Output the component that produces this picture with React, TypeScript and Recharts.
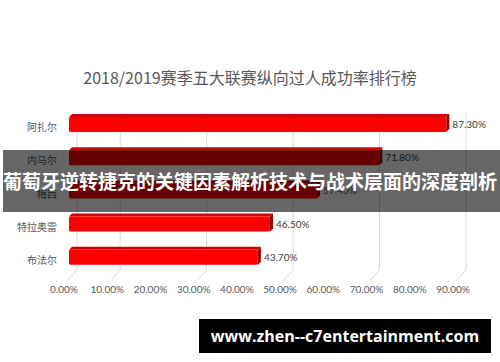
import React from 'react';
import { BarChart, Bar, XAxis, YAxis, CartesianGrid, LabelList } from 'recharts';

const players = ['阿扎尔', '内马尔', '梅西', '特拉奥雷', '布法尔'];
const rates = [87.3, 71.8, 57.4, 46.5, 43.7];
const xTicks = [0, 10, 20, 30, 40, 50, 60, 70, 80, 90];

const data = players.map((name, i) => ({ name, rate: rates[i] }));

const FONT = "Lato, 'Noto Sans CJK SC', sans-serif";

// bar with a little fake 3D top and right side
const Bar3D = (props: any) => {
  const { x, y, width, height } = props;
  const d = 3;
  return (
    <g>
      <polygon
        points={`${x},${y} ${x + d},${y - d} ${x + width + d},${y - d} ${x + width},${y}`}
        fill="#d40000"
      />
      <polygon
        points={`${x + width},${y} ${x + width + d},${y - d} ${x + width + d},${y + height - d} ${x + width},${y + height}`}
        fill="#9a0000"
      />
      <rect x={x} y={y} width={width} height={height} fill="#ff0000" rx={1.5} />
    </g>
  );
};

// grid lines sit a bit right of the value and bend into the "floor"
const GridLine = (props: any) => {
  const { x1, y1, y2 } = props;
  const gx = x1 + 8;
  return (
    <g key={props.key}>
      <line x1={gx} y1={y1 + 5} x2={gx} y2={y2 - 4} stroke="#d9d9d9" strokeWidth={1} />
      <line x1={gx} y1={y2 - 4} x2={gx - 10} y2={y2 + 7} stroke="#d9d9d9" strokeWidth={1} />
    </g>
  );
};

export default function App() {
  return (
    <div style={{ position: 'absolute', left: 0, top: 0, width: 500, height: 362, background: '#fff', overflow: 'hidden' }}>
      <div
        style={{
          position: 'absolute', left: 0, top: 65, width: 500, textAlign: 'center',
          fontFamily: "'Noto Sans CJK SC', sans-serif", fontSize: 16, color: '#595959', lineHeight: '24px',
        }}
      >
        2018/2019赛季五大联赛纵向过人成功率排行榜
      </div>
      <BarChart
        width={500}
        height={362}
        data={data}
        layout="vertical"
        margin={{ top: 108, right: 42, left: 0, bottom: 58 }}
        style={{ position: 'absolute', left: 0, top: 0 }}
      >
        <CartesianGrid horizontal={false} vertical={GridLine} />
        <XAxis
          type="number"
          domain={[0, 90]}
          ticks={xTicks}
          tickFormatter={(v) => `${v.toFixed(2)}%`}
          axisLine={false}
          tickLine={false}
          tickSize={0}
          tickMargin={12}
          height={30}
          tick={{ fill: '#595959', fontSize: 10, fontFamily: FONT, dx: -5 }}
        />
        <YAxis
          type="category"
          dataKey="name"
          width={69}
          axisLine={false}
          tickLine={false}
          tickSize={0}
          tickMargin={12}
          tick={{ fill: '#595959', fontSize: 10, fontFamily: FONT, dy: 3 }}
        />
        <Bar dataKey="rate" barSize={15} shape={Bar3D} isAnimationActive={false}>
          <LabelList
            dataKey="rate"
            position="right"
            offset={6}
            formatter={(v: any) => `${Number(v).toFixed(2)}%`}
            style={{ fill: '#404040', fontSize: 10, fontFamily: FONT }}
          />
        </Bar>
      </BarChart>
      <div
        style={{
          position: 'absolute', left: 3, top: 150, width: 497, height: 62, background: 'rgba(0,0,0,0.6)',
        }}
      />
      <div
        style={{
          position: 'absolute', left: 0, top: 150, width: 500, height: 62, lineHeight: '62px', textAlign: 'center',
          fontFamily: "'Noto Sans CJK SC', sans-serif", fontWeight: 700, fontSize: 19, color: '#fff', whiteSpace: 'nowrap',
        }}
      >
        葡萄牙逆转捷克的关键因素解析技术与战术层面的深度剖析
      </div>
      <div
        style={{
          position: 'absolute', left: 199, top: 319, width: 292, height: 34, background: '#000',
          color: '#fff', fontFamily: "'Open Sans', sans-serif", fontWeight: 700, fontSize: 16,
          lineHeight: '34px', textAlign: 'center', whiteSpace: 'nowrap',
        }}
      >
        www.zhen--c7entertainment.com
      </div>
    </div>
  );
}
